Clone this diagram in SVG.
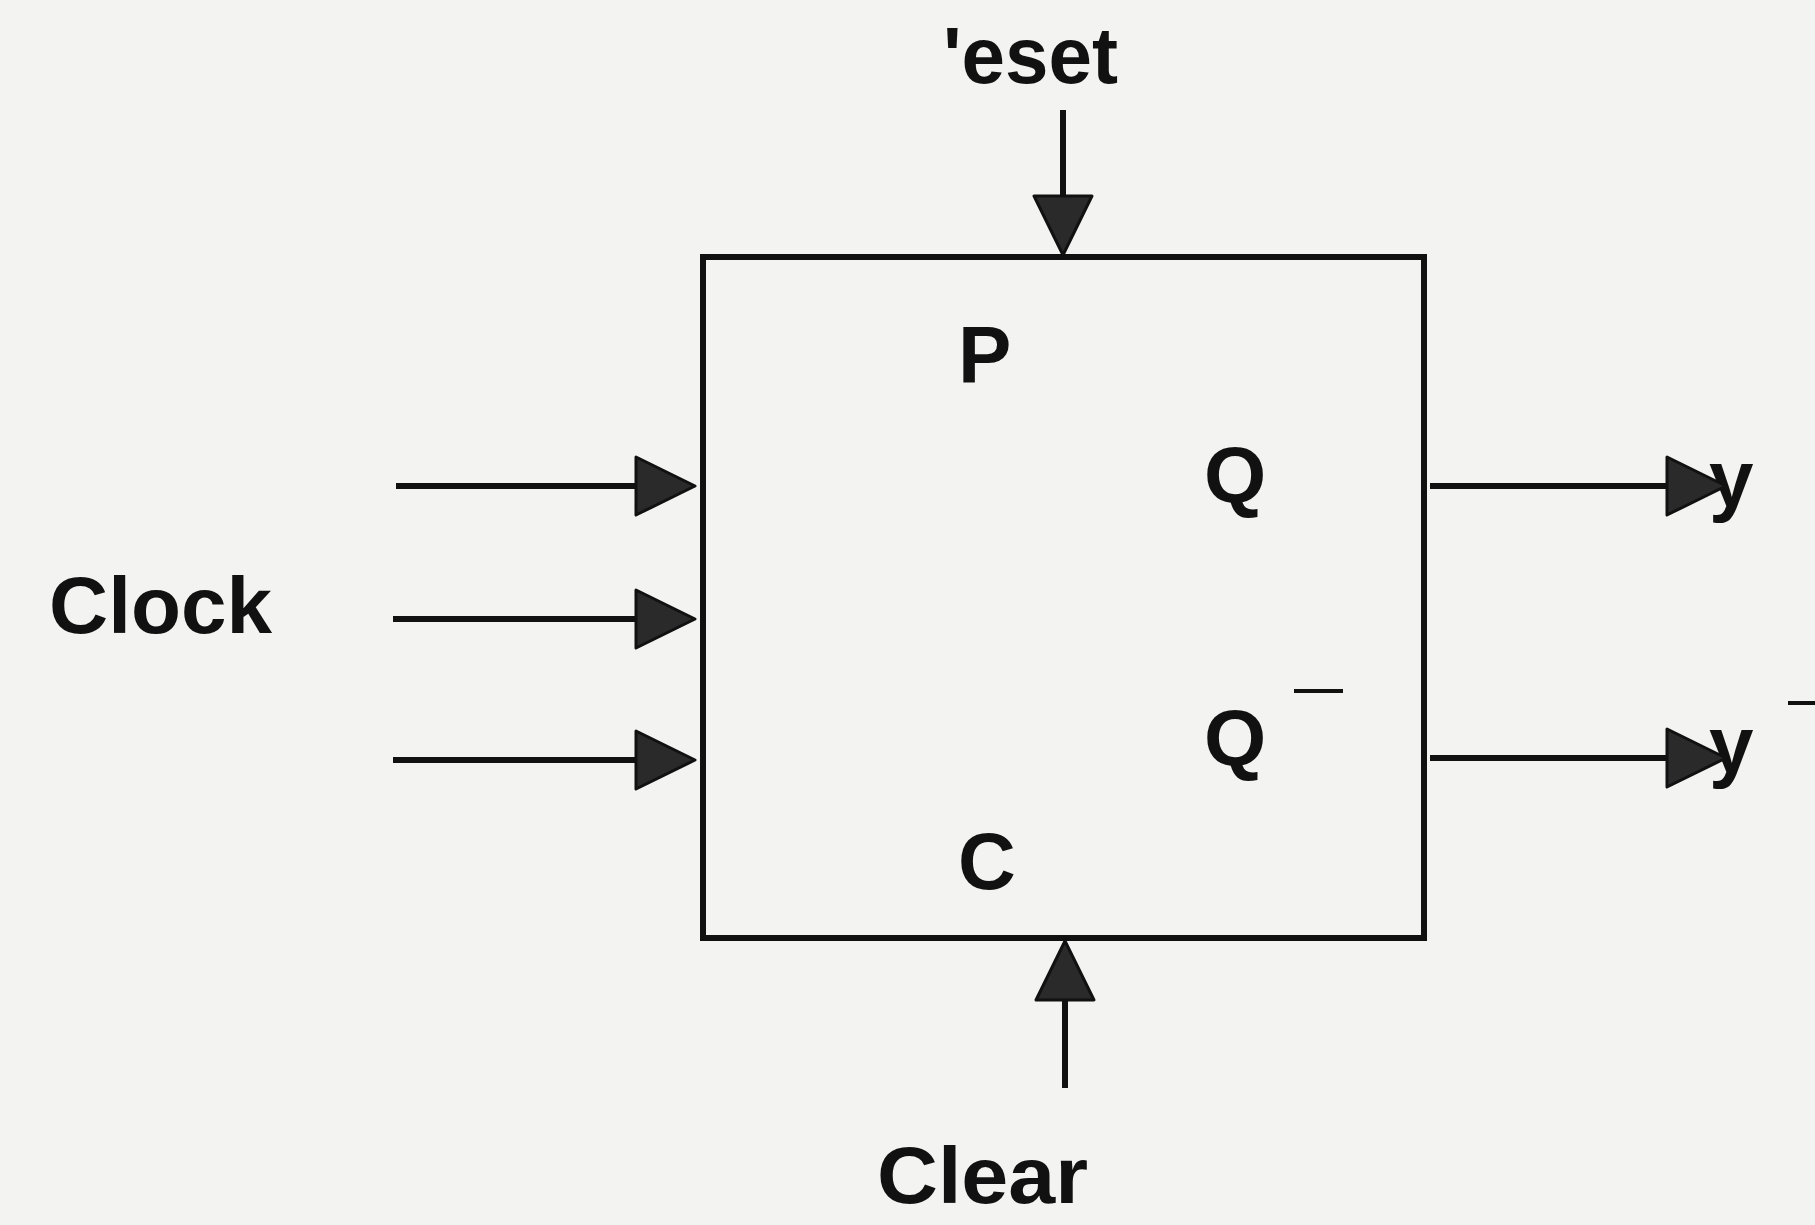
<svg xmlns="http://www.w3.org/2000/svg" width="1815" height="1225" viewBox="0 0 1815 1225">
<style>
.t{font-family:"Liberation Sans",Arial,sans-serif;font-size:80px;font-weight:bold;fill:#111}
.ln{stroke:#111;stroke-width:6;fill:none}
</style>
<defs>
<marker id="ah" markerUnits="userSpaceOnUse" markerWidth="62" markerHeight="62" refX="0" refY="30" orient="auto" overflow="visible">
<path d="M0,1 L59,30 L0,59 Z" fill="#2a2a2a" stroke="#111" stroke-width="3" stroke-linejoin="round"/>
</marker>
</defs>
<rect x="0" y="0" width="1815" height="1225" fill="#f3f3f1"/>
<g id="flipflop">
<rect x="703" y="257" width="721" height="681" fill="none" stroke="#111" stroke-width="6"/>
<text class="t" x="958" y="382">P</text>
<text class="t" x="1204" y="502">Q</text>
<text class="t" x="1204" y="765">Q</text>
<line x1="1294" y1="691" x2="1343" y2="691" stroke="#111" stroke-width="4"/>
<text class="t" x="958" y="889">C</text>
</g>
<g id="labels">
<text class="t" x="943" y="83" textLength="175" lengthAdjust="spacingAndGlyphs">'eset</text>
<text class="t" x="49" y="633" textLength="223" lengthAdjust="spacingAndGlyphs">Clock</text>
<text class="t" x="877" y="1203" textLength="211" lengthAdjust="spacingAndGlyphs">Clear</text>
<text class="t" x="1709" y="506">y</text>
<text class="t" x="1709" y="772">y</text>
<line x1="1788" y1="703" x2="1815" y2="703" stroke="#111" stroke-width="4"/>
</g>
<g id="connectors">
<line class="ln" x1="396" y1="486" x2="636" y2="486" marker-end="url(#ah)"/>
<line class="ln" x1="393" y1="619" x2="636" y2="619" marker-end="url(#ah)"/>
<line class="ln" x1="393" y1="760" x2="636" y2="760" marker-end="url(#ah)"/>
<line class="ln" x1="1430" y1="486" x2="1667" y2="486" marker-end="url(#ah)"/>
<line class="ln" x1="1430" y1="758" x2="1667" y2="758" marker-end="url(#ah)"/>
<line class="ln" x1="1063" y1="110" x2="1063" y2="196" marker-end="url(#ah)"/>
<line class="ln" x1="1065" y1="1088" x2="1065" y2="1000" marker-end="url(#ah)"/>
</g>
</svg>
